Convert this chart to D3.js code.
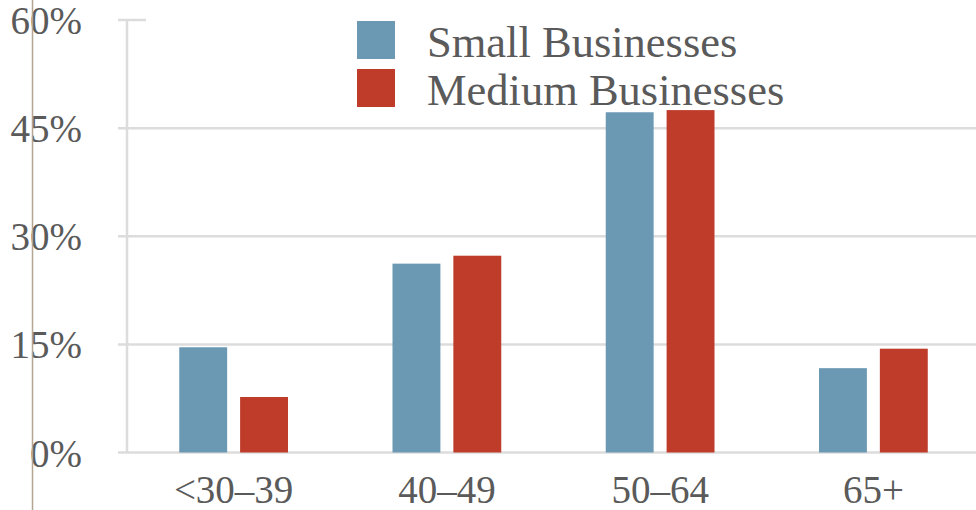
<!DOCTYPE html>
<html>
<head>
<meta charset="utf-8">
<script src="https://cdn.jsdelivr.net/npm/d3@7"></script>
<style>
    html, body { margin: 0; padding: 0; background: #fff; }
    svg text { font-family: "Liberation Serif", "DejaVu Serif", serif; fill: #5a5a5a; }
</style>
</head>
<body>
<div id="chart"></div>
<script>
    "use strict";

    // age groups of owners
    const categories = ["<30\u201339", "40\u201349", "50\u201364", "65+"];
    const seriesNames = ["Small Businesses", "Medium Businesses"];
    const smallValues = [14.6, 26.2, 47.2, 11.7];
    const mediumValues = [7.7, 27.3, 47.5, 14.4];
    const yTicks = [0, 15, 30, 45, 60];
    const colors = ["#6b99b3", "#bf3b2a"];

    const width = 976;
    const height = 510;

    const rows = categories.map((c, i) => ({ cat: c, values: [smallValues[i], mediumValues[i]] }));

    const svg = d3.select("#chart").append("svg")
        .attr("width", width)
        .attr("height", height);

    const y = d3.scaleLinear().domain([0, 60]).range([452.5, 20]);

    const x0 = d3.scaleBand()
        .domain(categories)
        .range([127, 980])
        .paddingInner(0.49)
        .paddingOuter(0.245);

    const x1 = d3.scaleBand()
        .domain([0, 1])
        .range([0, x0.bandwidth()])
        .paddingInner(0.213);

    // grid lines (top one is only a short tick)
    svg.append("g").selectAll("line")
        .data(yTicks)
        .enter()
        .append("line")
        .attr("x1", 118)
        .attr("x2", d => d === 60 ? 146 : width)
        .attr("y1", d => y(d))
        .attr("y2", d => y(d))
        .attr("stroke", "#dcdcdc")
        .attr("stroke-width", 2.5);

    // y axis line
    svg.append("line")
        .attr("x1", 127).attr("x2", 127)
        .attr("y1", y(60)).attr("y2", y(0))
        .attr("stroke", "#dcdcdc")
        .attr("stroke-width", 2.5);

    svg.append("g").selectAll("text")
        .data(yTicks)
        .enter()
        .append("text")
        .attr("x", 82)
        .attr("y", d => y(d) + 14)
        .attr("text-anchor", "end")
        .style("font-size", "39px")
        .text(d => d + "%");

    // bars
    const groups = svg.append("g").selectAll("g")
        .data(rows)
        .enter()
        .append("g")
        .attr("transform", d => "translate(" + x0(d.cat) + ",0)");

    groups.selectAll("rect")
        .data(d => d.values)
        .enter()
        .append("rect")
        .attr("x", (d, i) => x1(i))
        .attr("width", x1.bandwidth())
        .attr("y", d => y(d))
        .attr("height", d => y(0) - y(d))
        .attr("fill", (d, i) => colors[i]);

    // x labels
    svg.append("g").selectAll("text")
        .data(categories)
        .enter()
        .append("text")
        .attr("x", d => x0(d) + x0.bandwidth() / 2)
        .attr("y", 503)
        .attr("text-anchor", "middle")
        .style("font-size", "39px")
        .text(d => d);

    // legend
    const legend = svg.append("g").selectAll("g")
        .data(seriesNames)
        .enter()
        .append("g")
        .attr("transform", (d, i) => "translate(357," + (21 + i * 48) + ")");

    legend.append("rect")
        .attr("width", 38)
        .attr("height", 38)
        .attr("fill", (d, i) => colors[i]);

    legend.append("text")
        .attr("x", 70)
        .attr("y", 36)
        .style("font-size", "44.5px")
        .text(d => d);

    // left edge rule
    svg.append("line")
        .attr("x1", 32.5).attr("x2", 32.5)
        .attr("y1", 0).attr("y2", height)
        .attr("stroke", "#b3a590")
        .attr("stroke-width", 1.5);
</script>
</body>
</html>
